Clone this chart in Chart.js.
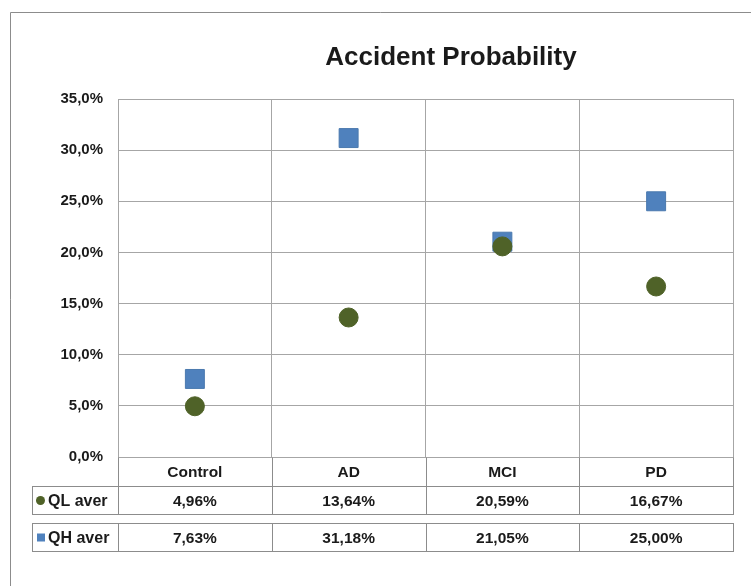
<!DOCTYPE html>
<html>
<head>
<meta charset="utf-8">
<script src="https://cdn.jsdelivr.net/npm/chart.js@4.4.1/dist/chart.umd.min.js"></script>
<style>
  html, body { margin: 0; padding: 0; background: #fff; }
  #wrap { width: 751px; height: 586px; position: relative; }
</style>
</head>
<body>
<div id="wrap"><canvas id="c" width="751" height="586"></canvas></div>
<script>
const chartTitle = 'Accident Probability';
const categories = ['Control', 'AD', 'MCI', 'PD'];
const seriesNames = ['QL aver', 'QH aver'];
const qlValues = [4.96, 13.64, 20.59, 16.67];
const qhValues = [7.63, 31.18, 21.05, 25.00];
const yTickMin = 0;
const yTickMax = 35;
const yTickStep = 5;

const GREEN = '#4F6228';
const BLUE = '#4F81BD';
const GRID = '#a6a6a6';
const TABLE_LINE = '#8c8c8c';
const FONT = "'Liberation Sans Narrow', 'Arial Narrow', 'Liberation Sans', Arial, sans-serif";

function pct1(v) { return v.toFixed(1).replace('.', ',') + '%'; }
function pct2(v) { return v.toFixed(2).replace('.', ',') + '%'; }

const tablePlugin = {
  id: 'tablePlugin',
  beforeDraw(chart) {
    const ctx = chart.ctx;
    ctx.save();
    ctx.fillStyle = '#fff';
    ctx.fillRect(0, 0, chart.width, chart.height);
    ctx.strokeStyle = TABLE_LINE;
    ctx.lineWidth = 1;
    ctx.beginPath();
    ctx.moveTo(10.5, chart.height);
    ctx.lineTo(10.5, 12.5);
    ctx.lineTo(chart.width, 12.5);
    ctx.stroke();
    ctx.restore();
  },
  afterDraw(chart) {
    const ctx = chart.ctx;
    const area = chart.chartArea;
    const n = categories.length;
    const colW = (area.right - area.left) / n;
    const bounds = [];
    for (let i = 0; i <= n; i++) bounds.push(Math.round(area.left + i * colW) + 0.5);
    ctx.save();

    // plot border
    ctx.strokeStyle = GRID;
    ctx.lineWidth = 1;
    ctx.strokeRect(Math.round(area.left) + 0.5, Math.round(area.top) + 0.5,
      Math.round(area.right - area.left), Math.round(area.bottom - area.top));

    // title
    ctx.fillStyle = '#1a1a1a';
    ctx.font = "bold 26px 'Liberation Sans', Arial, sans-serif";
    ctx.textAlign = 'center';
    ctx.textBaseline = 'alphabetic';
    ctx.fillText(chartTitle, 451, 65);

    // category row
    const catTop = Math.round(area.bottom) + 0.5;
    const catBot = 486.5;
    ctx.strokeStyle = TABLE_LINE;
    ctx.beginPath();
    bounds.forEach(b => { ctx.moveTo(b, catTop); ctx.lineTo(b, catBot); });
    ctx.stroke();
    ctx.fillStyle = '#1a1a1a';
    ctx.font = "bold 15.5px " + FONT;
    ctx.textBaseline = 'middle';
    ctx.textAlign = 'center';
    categories.forEach((c, i) => {
      ctx.fillText(c, chart.scales.x.getPixelForValue(i), (catTop + catBot) / 2 + 1);
    });

    // data rows
    const keyLeft = 32.5;
    const rows = [
      { top: 486.5, bot: 514.5, vals: qlValues, name: seriesNames[0], kind: 'circle', color: GREEN },
      { top: 523.5, bot: 551.5, vals: qhValues, name: seriesNames[1], kind: 'rect', color: BLUE }
    ];
    rows.forEach(r => {
      ctx.strokeStyle = TABLE_LINE;
      ctx.lineWidth = 1;
      ctx.strokeRect(keyLeft, r.top, bounds[n] - keyLeft, r.bot - r.top);
      ctx.beginPath();
      for (let i = 0; i < n; i++) { ctx.moveTo(bounds[i], r.top); ctx.lineTo(bounds[i], r.bot); }
      ctx.stroke();
      const cy = (r.top + r.bot) / 2;
      ctx.fillStyle = r.color;
      if (r.kind === 'circle') {
        ctx.beginPath();
        ctx.arc(40.5, cy, 4.5, 0, Math.PI * 2);
        ctx.fill();
      } else {
        ctx.fillRect(37, cy - 4, 8, 8);
      }
      ctx.fillStyle = '#1a1a1a';
      ctx.font = "bold 16px " + FONT;
      ctx.textAlign = 'left';
      ctx.fillText(r.name, 48, cy + 1);
      ctx.font = "bold 15.5px " + FONT;
      ctx.textAlign = 'center';
      r.vals.forEach((v, i) => {
        ctx.fillText(pct2(v), chart.scales.x.getPixelForValue(i), cy + 1);
      });
    });
    ctx.restore();
  }
};

new Chart(document.getElementById('c'), {
  type: 'line',
  data: {
    labels: categories,
    datasets: [
      {
        label: seriesNames[0],
        data: qlValues,
        showLine: false,
        pointStyle: 'circle',
        pointRadius: 9.5,
        pointHoverRadius: 9.5,
        backgroundColor: GREEN,
        borderColor: GREEN,
        pointBorderWidth: 1
      },
      {
        label: seriesNames[1],
        data: qhValues,
        showLine: false,
        pointStyle: 'rect',
        pointRadius: 13.4,
        pointHoverRadius: 13.4,
        backgroundColor: BLUE,
        borderColor: '#4a79ae',
        pointBorderWidth: 1
      }
    ]
  },
  options: {
    responsive: false,
    animation: false,
    devicePixelRatio: 1,
    layout: { padding: { top: 99, right: 18, bottom: 129, left: 0 } },
    plugins: {
      legend: { display: false },
      title: { display: false },
      tooltip: { enabled: false }
    },
    scales: {
      x: {
        offset: true,
        grid: { offset: true, color: GRID, drawTicks: false },
        border: { display: true, color: GRID },
        ticks: { display: false },
        afterFit: s => { s.height = 0; }
      },
      y: {
        min: yTickMin,
        max: yTickMax,
        grid: { color: GRID, drawTicks: false },
        border: { display: true, color: GRID },
        ticks: {
          stepSize: yTickStep,
          padding: 15,
          color: '#1a1a1a',
          font: { family: FONT, size: 15, weight: 'bold' },
          callback: v => pct1(v)
        },
        afterFit: s => { s.width = 118; }
      }
    }
  },
  plugins: [tablePlugin]
});
</script>
</body>
</html>
